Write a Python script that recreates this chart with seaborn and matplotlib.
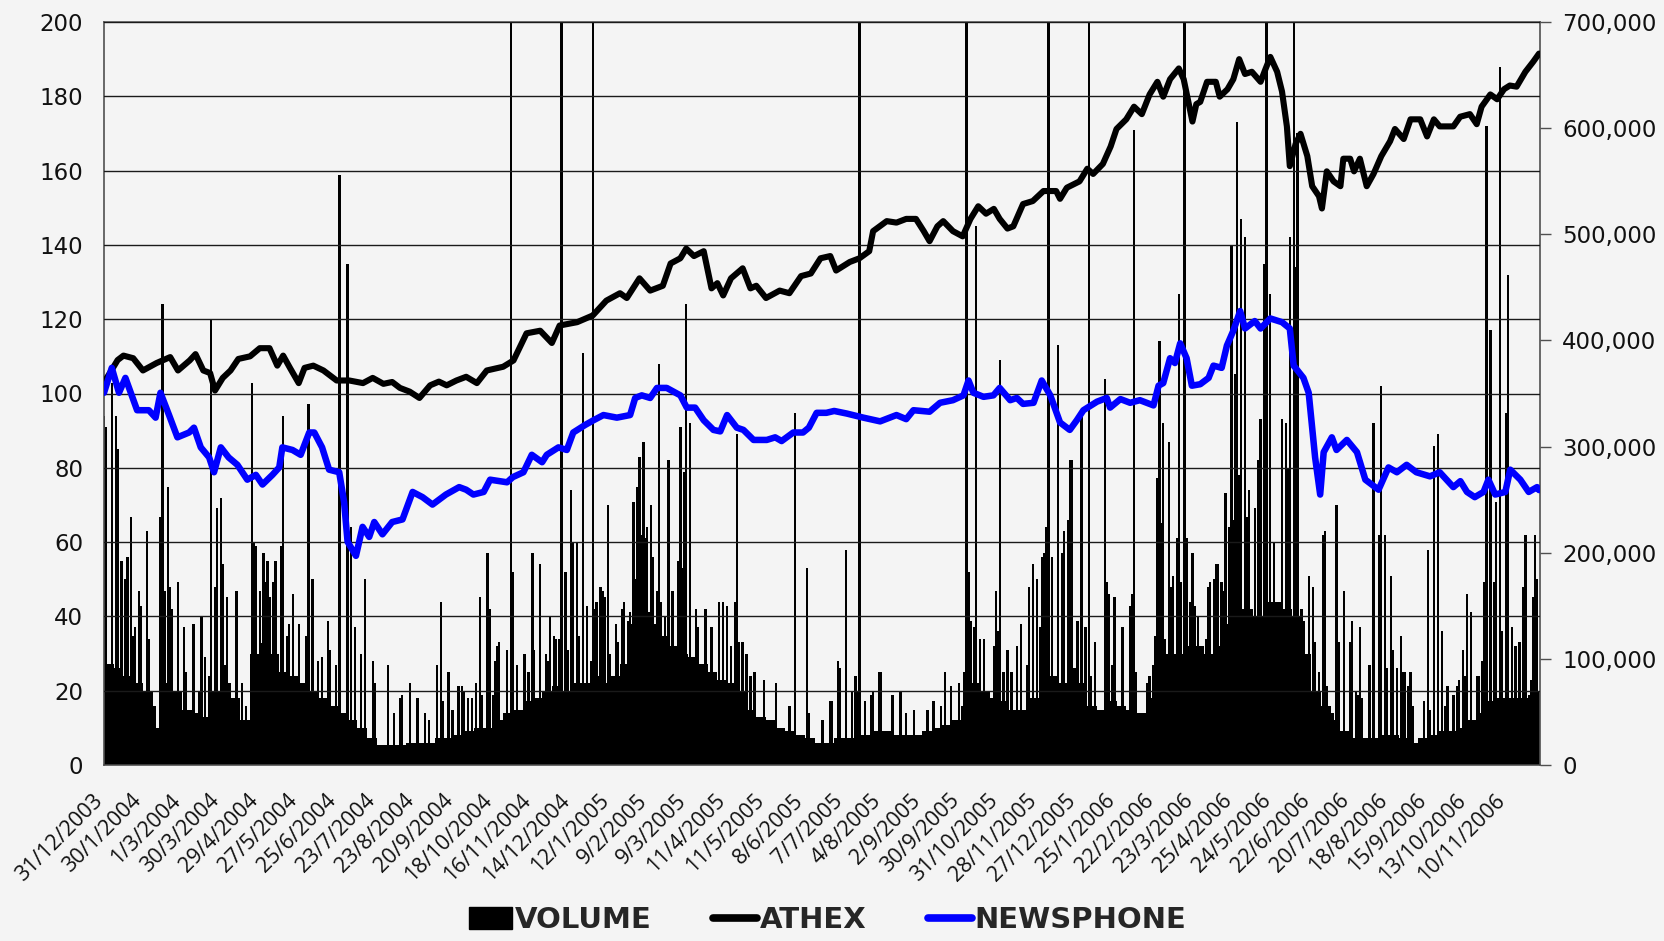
import numpy as np
import pandas as pd
import matplotlib
matplotlib.use("Agg")
import matplotlib.pyplot as plt
import seaborn as sns
from matplotlib import font_manager as fm
from matplotlib.lines import Line2D
from matplotlib.patches import Patch
from matplotlib.ticker import FuncFormatter, FixedLocator
from matplotlib.transforms import ScaledTranslation

# ---------------- data (trading-day index) ----------------
tick_labels = ['31/12/2003', '30/1/2004', '1/3/2004', '30/3/2004', '29/4/2004', '27/5/2004',
               '25/6/2004', '23/7/2004', '23/8/2004', '20/9/2004', '18/10/2004', '16/11/2004',
               '14/12/2004', '12/1/2005', '9/2/2005', '9/3/2005', '11/4/2005', '11/5/2005',
               '8/6/2005', '7/7/2005', '4/8/2005', '2/9/2005', '30/9/2005', '31/10/2005',
               '28/11/2005', '27/12/2005', '25/1/2006', '22/2/2006', '23/3/2006', '25/4/2006',
               '24/5/2006', '22/6/2006', '20/7/2006', '18/8/2006', '15/9/2006', '13/10/2006',
               '10/11/2006']
tick_every = 20

athex_day = [0, 3, 7, 10, 15, 20, 27, 34, 38, 44,
             47, 51, 54.5, 57, 61, 65, 69, 75, 80, 85,
             89, 92, 95.5, 100, 103, 107.5, 112.7, 119.5, 126, 133,
             138, 143.5, 148, 152, 157, 162, 167.5, 172, 176, 181,
             186, 191.5, 196.6, 205, 210.3, 217, 224, 230, 234, 243,
             251, 258, 265, 268.5, 275, 280.5, 287, 291, 296, 299,
             303, 308, 312, 315, 318, 322, 328, 332, 335, 340,
             347, 352, 358, 363, 368, 373, 376, 383, 388, 393,
             395, 402, 407, 412, 417, 421, 424, 428, 431, 436,
             441, 445, 449, 453, 457, 460, 464, 467, 472, 477,
             482.5, 489, 491, 494.5, 501, 505, 508, 513, 517, 520,
             525, 529, 533, 537, 541, 544, 547.5, 552, 554.5, 559,
             561, 563, 566.5, 571, 573, 577, 580, 583, 586, 589.5,
             594, 596.5, 599, 602.5, 605, 607.5, 609, 612, 614.5, 618,
             620.5, 624, 625.5, 628, 631.5, 635, 636.5, 640, 642, 645,
             648.5, 652, 656, 660.5, 663, 667.5, 671, 676, 679.5, 683,
             686, 693, 696.5, 701.5, 705, 707.5, 712, 715.5, 719, 722,
             725.5, 730, 734, 737]
athex_val = [103, 105.5, 109, 110.2, 109.5, 106.2, 108.2, 109.8, 106.2, 108.9,
             110.6, 106.2, 105.5, 100.8, 104.2, 106.2, 109.3, 110, 112.2, 112.2,
             107.5, 110.2, 106.9, 102.8, 106.9, 107.5, 106.2, 103.5, 103.5, 102.8,
             104.2, 102.6, 103.1, 101.5, 100.5, 98.8, 102.2, 103.2, 102.2, 103.5,
             104.5, 102.8, 106.2, 107.2, 108.9, 116.2, 116.9, 113.6, 118.3, 119.2,
             121, 125, 127, 125.7, 131, 127.7, 129, 135, 136.4, 139,
             137, 138.3, 128.3, 129.7, 126.4, 131, 133.7, 128.3, 129, 125.7,
             127.7, 127, 131.6, 132.3, 136.4, 137, 133.1, 135.4, 136.4, 138.3,
             143.7, 146.4, 146, 147, 147, 143.7, 141, 145, 146.4, 143.7,
             142.3, 147, 150.4, 148.4, 149.7, 147, 144.4, 145, 151, 151.8,
             154.5, 154.5, 152.4, 155.4, 157.1, 160.5, 159.1, 161.8, 166.5, 171.2,
             173.8, 177.2, 175.2, 180.5, 183.9, 179.9, 184.6, 187.5, 184.6, 173.2,
             177.9, 178.5, 183.9, 183.9, 179.9, 181.9, 184.6, 190, 186, 186.6,
             183.9, 187.3, 190.6, 186.6, 181.3, 171.9, 161.2, 167.2, 169.9, 163.9,
             155.8, 153.1, 149.8, 159.8, 157.1, 155.8, 163.2, 163.2, 159.8, 163.2,
             155.8, 159.1, 163.9, 167.9, 171.2, 168.5, 173.8, 173.8, 169.2, 173.8,
             171.9, 171.9, 174.5, 175.2, 172.5, 177.2, 180.5, 179.2, 181.9, 182.9,
             182.6, 186.6, 189.3, 191.5]

news_day = [0, 4, 7.7, 11, 17, 23, 26.5, 29, 33.4, 37.7,
            43.7, 46.2, 49.7, 54, 56.5, 60, 64, 68.5, 73.6, 78,
            81.4, 86.5, 90, 91.6, 96.8, 101, 105.4, 108, 112, 115.6,
            120.8, 123.3, 125.1, 129.4, 132.8, 136.2, 138.8, 143, 148, 153.3,
            158.5, 163.6, 168.7, 175.6, 182.4, 186, 189.7, 195, 198.3, 207,
            210, 215.4, 219.7, 225, 227.4, 233.4, 237.7, 241, 247, 251.4,
            256.5, 263.4, 270.2, 272.8, 276.2, 280.5, 284, 289, 296, 299.3,
            303.6, 308, 313, 316.5, 320, 325, 328.4, 333.6, 340.4, 344.7,
            348, 354, 359, 362, 366, 371, 375, 381.5, 390, 398.6,
            407, 412, 415.7, 424, 429.4, 436, 441.4, 444, 446.5, 451.7,
            456.8, 460, 465.4, 468.8, 472, 477.4, 481.6, 486, 491, 496,
            499.6, 503, 510, 515, 516.7, 522, 527, 532, 539, 541.6,
            544, 547.5, 550, 552.7, 556, 558.7, 563, 567.3, 569.8, 574,
            576.7, 580, 583.5, 586, 591, 594, 599, 605, 609, 611,
            616, 618.7, 622, 624.6, 626.4, 630.6, 633, 638.3, 643.5, 647.8,
            654.6, 659.7, 664, 669, 674, 681, 686, 693, 696.6, 700,
            704, 708.5, 711, 714.5, 719.7, 722.2, 727.4, 731.7, 736, 737]
news_val = [100.2, 106.9, 100.2, 104.2, 95.5, 95.5, 93.5, 100.2, 94.2, 88.2,
            89.5, 90.8, 85.5, 82.8, 78.8, 85.5, 82.8, 80.8, 76.8, 78.1,
            75.5, 78.1, 80.1, 85.5, 84.8, 83.5, 89.5, 89.5, 85.5, 79.5,
            78.8, 70.8, 60.1, 56.3, 64.1, 61.4, 65.4, 62.1, 65.4, 66.1,
            73.5, 72.1, 70.1, 72.8, 74.8, 74.1, 72.8, 73.5, 76.8, 76.1,
            77.5, 78.8, 83.5, 81.5, 83.5, 85.5, 84.8, 89.5, 91.5, 92.8,
            94.2, 93.5, 94.2, 98.8, 99.5, 98.8, 101.5, 101.5, 99.5, 96.2,
            96.2, 92.8, 90.2, 89.8, 94.2, 90.8, 90.2, 87.5, 87.5, 88.2,
            87.2, 89.5, 89.5, 90.8, 94.8, 94.8, 95.3, 94.6, 93.5, 92.5,
            94.2, 93.1, 95.5, 95.1, 97.5, 98.2, 99.5, 103.5, 100.2, 99.1,
            99.5, 101.5, 98.2, 98.8, 97.2, 97.5, 103.5, 99.5, 92.2, 90.2,
            92.8, 95.5, 97.8, 98.8, 96.2, 98.5, 97.5, 98.2, 96.8, 102.1,
            102.8, 109.5, 108.2, 113.5, 109.5, 102.1, 102.5, 104.2, 107.5, 106.9,
            112.9, 116.9, 122.2, 117.5, 119.5, 117.5, 120.2, 119.2, 117.5, 107.5,
            104.2, 100.2, 82.8, 72.8, 84.2, 88.2, 84.8, 87.5, 84.2, 76.8,
            74.1, 80.1, 78.8, 80.8, 78.8, 77.7, 78.8, 74.8, 76.4, 73.5,
            72.1, 73.5, 76.8, 72.8, 73.5, 79.5, 76.8, 73.5, 74.8, 74.0]

# typical (solid) daily volume, thousands of shares, per 5-trading-day block
vol_base_k = [95, 91, 84, 77, 70, 35, 77, 70, 52, 49,
              45, 70, 77, 63, 42, 105, 115, 105, 88, 84,
              77, 70, 63, 56, 49, 42, 35, 25, 19, 19,
              19, 21, 21, 21, 25, 25, 28, 32, 35, 35,
              42, 49, 52, 60, 63, 70, 74, 70, 77, 77,
              84, 77, 84, 95, 112, 126, 133, 122, 112, 105,
              102, 95, 88, 80, 77, 70, 52, 45, 42, 35,
              32, 28, 25, 21, 21, 25, 25, 28, 28, 32,
              32, 28, 28, 28, 32, 35, 38, 42, 56, 77,
              70, 63, 60, 52, 52, 63, 77, 84, 77, 91,
              77, 56, 52, 60, 56, 52, 49, 63, 84, 105,
              105, 112, 112, 105, 112, 133, 147, 147, 140, 154,
              154, 147, 140, 105, 70, 56, 42, 32, 25, 25,
              25, 28, 28, 25, 21, 25, 28, 32, 32, 35,
              42, 49, 60, 63, 63, 63, 63, 70]
vol_block = 5

# individual days standing out above the solid mass (thousands of shares)
vol_day = [0, 1, 4, 6, 7, 9, 11, 12, 14, 15,
           16, 18, 19, 22, 23, 26, 29, 30, 31, 33,
           34, 35, 38, 41, 42, 46, 49, 50, 52, 54,
           55, 57, 58, 60, 61, 62, 63, 68, 71, 73,
           76, 77, 78, 80, 82, 83, 84, 85, 87, 88,
           91, 92, 94, 95, 97, 100, 104, 105, 107, 110,
           112, 115, 116, 119, 121, 125, 127, 129, 132, 134,
           138, 139, 146, 149, 152, 153, 157, 161, 165, 167,
           171, 173, 174, 177, 179, 182,
           184, 185, 187, 189, 191, 193, 194, 197, 198, 200,
           201, 202, 203, 207, 209, 210, 212, 216, 218, 220,
           221, 224, 227, 228, 229, 231, 232, 234, 235, 237,
           238, 240, 241, 243, 244, 246, 248, 250, 251, 252,
           253, 255, 256, 257, 259, 260, 263, 264, 266, 267,
           269, 270, 271, 272, 273, 274, 275, 276, 277, 278,
           279, 280, 281, 282, 284, 285, 286, 288, 289, 290,
           292, 295, 296, 297, 298, 299, 301, 304, 305, 309,
           312, 316, 318, 320, 322, 324, 325, 326, 328, 330,
           332, 334, 339, 345, 352, 355, 361, 362,
           369, 373, 374, 377, 378, 381, 384, 386, 387, 388,
           391, 394, 395, 398, 399, 405, 409, 412, 416, 423,
           426, 430, 432, 435, 439, 442, 443, 444, 445, 447,
           448, 450, 452, 457, 458, 459, 460, 462, 464, 466,
           469, 471, 474, 475, 477, 479, 481, 482, 483, 484,
           485, 487, 490, 492, 493, 495, 496, 497, 500, 502,
           504, 506, 507, 509, 514, 515, 516, 518, 519, 523,
           527, 528, 529, 530, 536, 537, 539, 540, 541, 542,
           543, 544, 545, 547, 548, 549, 550, 551, 552,
           553, 555, 556, 558, 559, 560, 562, 566, 567, 568,
           570, 571, 572, 574, 575, 576, 578, 579, 580, 581,
           582, 583, 584, 586, 587, 588, 591, 593, 594, 596,
           597, 599, 601, 605, 607, 608, 609, 611, 612, 613,
           615, 616, 619, 621, 622, 624, 626, 627, 628, 631,
           633, 634, 637, 640, 641, 643, 644, 645, 646, 650,
           652, 655, 656, 658, 659, 661, 662, 664, 666, 667,
           668, 670, 671, 672, 678, 680, 681, 683, 685, 687,
           689, 690, 693, 695, 696, 698, 699, 700, 702, 705,
           706, 708, 709, 710, 712, 714, 715, 717, 718, 720,
           721, 723, 725, 727, 729, 730, 732, 733, 734, 735,
           736]
vol_k = [329, 318, 360, 329, 298, 192, 175, 196, 234, 122,
         130, 164, 150, 220, 119, 56, 234, 434, 164, 262,
         168, 147, 172, 130, 88, 133, 70, 140, 102, 84,
         420, 168, 242, 252, 189, 94, 158, 164, 77, 56,
         360, 210, 206, 164, 200, 172, 192, 158, 172, 192,
         206, 329, 122, 133, 161, 133, 122, 340, 175, 98,
         102, 136, 108, 94, 556, 472, 224, 130, 105, 175,
         98, 77, 94, 49, 63, 66, 77, 63, 49, 42,
         94, 154, 60, 88, 52, 74,
         74, 70, 63, 63, 77, 158, 66, 200, 147, 66,
         98, 112, 116, 108, 760, 182, 94, 105, 88, 200,
         108, 189, 105, 98, 140, 122, 119, 119, 760, 182,
         108, 259, 210, 210, 122, 388, 150, 98, 760, 147,
         154, 168, 164, 158, 245, 105, 133, 116, 147, 154,
         136, 144, 133, 248, 175, 262, 290, 217, 304, 214,
         224, 144, 245, 196, 164, 378, 154, 140, 122, 287,
         164, 192, 318, 186, 276, 434, 322, 147, 130, 147,
         130, 154, 154, 150, 112, 154, 312, 116, 116, 105,
         84, 88, 80, 77, 56, 332, 186, 49,
         42, 60, 60, 98, 91, 203, 70, 84, 70, 760,
         60, 66, 70, 88, 88, 66, 70, 49, 52, 52,
         60, 56, 88, 74, 77, 88, 760, 182, 136, 130,
         508, 119, 119, 112, 164, 126, 382, 88, 108, 88,
         112, 133, 94, 168, 189, 175, 130, 196, 200, 224,
         760, 196, 396, 200, 220, 231, 287, 287, 136, 332,
         130, 760, 84, 116, 364, 172, 161, 94, 158, 130,
         150, 161, 598, 88, 77, 84, 94, 122, 270, 399,
         228, 322, 119, 304, 168, 178, 102, 214, 444,
         172, 760, 214, 154, 200, 150, 140, 119, 168, 172,
         175, 189, 189, 172, 164, 256, 224, 490, 231, 368,
         606, 273, 514, 497, 234, 259, 242, 287, 326, 472,
         760, 444, 210, 326, 322, 280, 497, 760, 469, 595,
         147, 136, 178, 168, 116, 88, 217, 220, 74, 49,
         245, 116, 164, 116, 136, 70, 66, 130, 63, 94,
         322, 217, 357, 217, 91, 178, 108, 91, 122, 88,
         88, 74, 88, 56, 60, 203, 52, 301, 312, 126,
         56, 74, 66, 74, 80, 108, 84, 161, 144, 84,
         84, 98, 172, 602, 410, 172, 248, 658, 126, 332,
         462, 130, 112, 116, 168, 217, 66, 80, 158, 217,
         175]

assert len(athex_day) == len(athex_val)
assert len(news_day) == len(news_val)
assert len(vol_day) == len(vol_k), (len(vol_day), len(vol_k))

# ---------------- styling ----------------
sns.set_theme(style="white")
BG = "#f4f4f4"
plt.rcParams["font.family"] = ["DejaVu Sans"]
plt.rcParams["axes.edgecolor"] = "#505050"

installed = {f.name for f in fm.fontManager.ttflist}
xlab_family = ["Open Sans", "DejaVu Sans"] if "Open Sans" in installed else ["DejaVu Sans"]
if "Liberation Sans Narrow" in installed:
    leg_prop = fm.FontProperties(family="Liberation Sans Narrow", weight="bold", size=25)
else:
    leg_prop = fm.FontProperties(family="DejaVu Sans", weight="bold", size=21)

n_days = 737.5
fig = plt.figure(figsize=(16.65, 9.41), dpi=100, facecolor=BG)
ax_v = fig.add_axes([104 / 1665, 1 - 765 / 941, (1540 - 104) / 1665, (765 - 22) / 941])
ax_v.set_facecolor(BG)

# volume bars (right axis)
base_pos = np.arange(len(vol_base_k)) * vol_block + vol_block / 2
ax_v.bar(base_pos, np.array(vol_base_k) * 1000, width=vol_block, color="black",
         linewidth=0, zorder=2)
ax_v.bar(vol_day, np.array(vol_k) * 1000, width=1.2, color="black", linewidth=0, zorder=2)
ax_v.set_ylim(0, 700000)
ax_v.set_xlim(0, n_days)

# price lines (left axis)
ax_l = ax_v.twinx()
df_a = pd.DataFrame({"day": athex_day, "val": athex_val})
df_n = pd.DataFrame({"day": news_day, "val": news_val})
ax_l.grid(axis="y", color="#1a1a1a", linewidth=1.0, zorder=0)
sns.lineplot(data=df_a, x="day", y="val", ax=ax_l, color="black", linewidth=4.4,
             solid_joinstyle="round", solid_capstyle="round", zorder=3)
sns.lineplot(data=df_n, x="day", y="val", ax=ax_l, color="#0000ff", linewidth=4.7,
             solid_joinstyle="round", solid_capstyle="round", zorder=4)
ax_l.set_ylim(0, 200)
ax_l.set_xlim(0, n_days)
ax_l.set_xlabel("")
ax_l.set_ylabel("")
ax_l.set_yticks(range(0, 201, 20))

# axis sides: lines scale on the left, volume on the right
ax_l.yaxis.set_ticks_position("left")
ax_l.yaxis.set_label_position("left")
ax_v.yaxis.set_ticks_position("right")
ax_v.yaxis.set_label_position("right")
ax_l.tick_params(axis="y", which="both", length=0, pad=15, labelsize=16.5,
                 labelcolor="#111111", left=True, right=False, labelleft=True,
                 labelright=False)
ax_v.set_yticks(range(0, 700001, 100000))
ax_v.yaxis.set_major_formatter(FuncFormatter(lambda v, p: f"{int(v):,}"))
ax_v.tick_params(axis="y", which="both", length=8, width=1, color="#505050", pad=8,
                 labelsize=16.5, labelcolor="#111111", right=True, left=False,
                 labelright=True, labelleft=False, direction="out")

# x axis: label every 20 trading days, small tick every 5
major = list(range(0, tick_every * len(tick_labels), tick_every))
ax_v.xaxis.set_major_locator(FixedLocator(major))
ax_v.xaxis.set_minor_locator(FixedLocator(list(range(0, 738, 5))))
ax_v.set_xticklabels(tick_labels, rotation=45, ha="right", va="top",
                     rotation_mode="anchor", fontsize=15.5, color="#111111",
                     family=xlab_family)
ax_v.tick_params(axis="x", which="both", length=6, width=1, color="#505050",
                 direction="out", pad=12)
shift = ScaledTranslation(-12 / 100, 0, fig.dpi_scale_trans)
for lab in ax_v.get_xticklabels():
    lab.set_transform(lab.get_transform() + shift)

for sp in ax_v.spines.values():
    sp.set_color("#505050")
    sp.set_linewidth(1.2)
for sp in ax_l.spines.values():
    sp.set_visible(False)
if ax_l.get_legend() is not None:
    ax_l.get_legend().remove()

handles = [Patch(facecolor="black", edgecolor="black"),
           Line2D([0], [0], color="black", linewidth=5.5),
           Line2D([0], [0], color="#0000ff", linewidth=5.5)]
fig.legend(handles, ["VOLUME", "ATHEX", "NEWSPHONE"], loc="center",
           bbox_to_anchor=(0.497, 0.022), ncol=3, frameon=False, prop=leg_prop,
           handlelength=1.5, handleheight=0.8, handletextpad=0.1,
           columnspacing=2.1)

fig.savefig("out.png", dpi=100, facecolor=BG)
